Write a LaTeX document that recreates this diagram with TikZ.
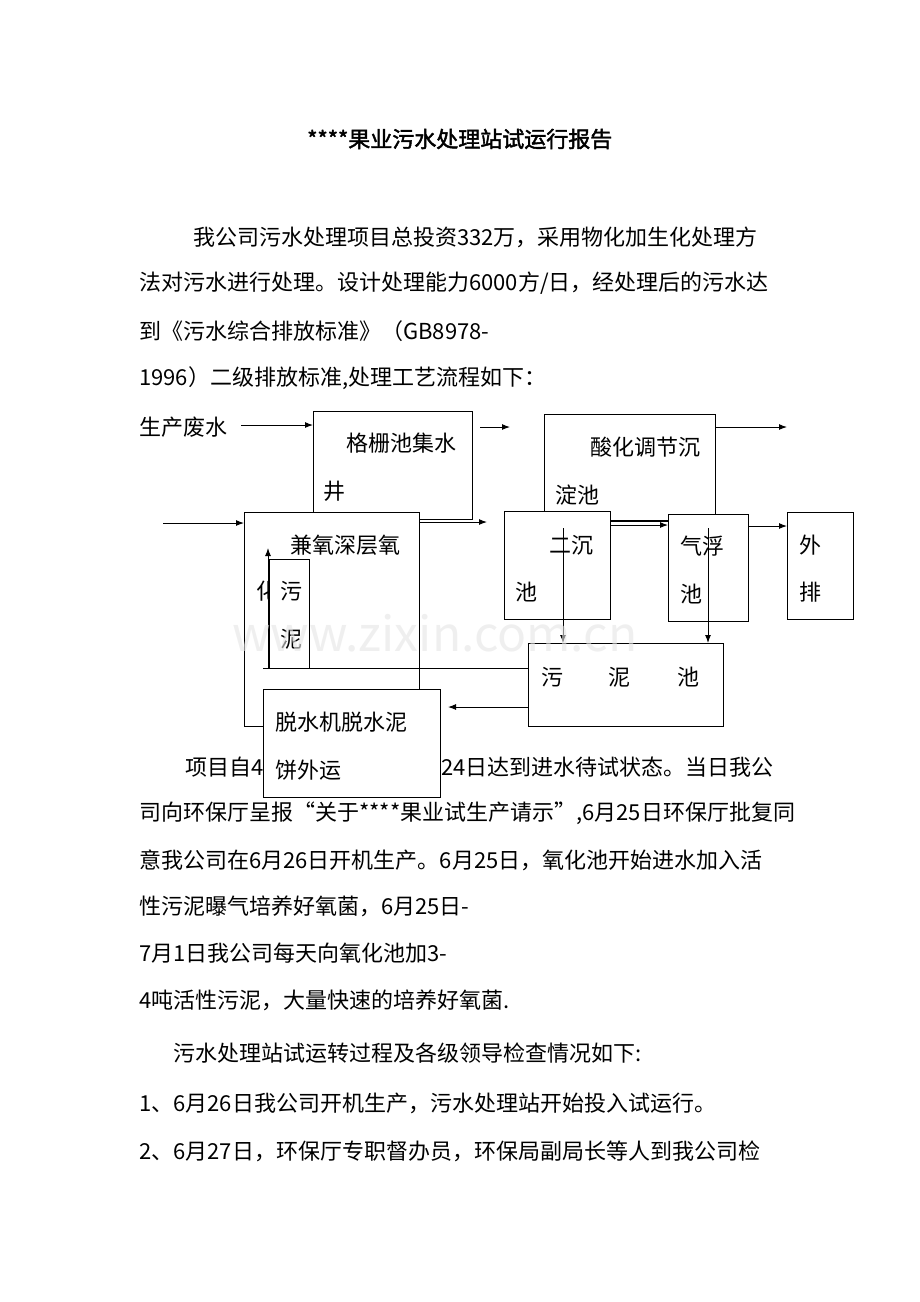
\documentclass[tikz,border=0pt]{standalone}
\usepackage{fontspec}
\setmainfont{Noto Sans CJK SC}[AutoFakeBold=2]
\usetikzlibrary{arrows.meta}
\begin{document}
\begin{tikzpicture}[x=1pt,y=-1pt,
  txt/.style={anchor=west,inner sep=0pt,font=\fontsize{22}{22}\selectfont},
  bx/.style={draw,line width=1pt,fill=white},
  ar/.style={line width=1pt,-{Latex[length=8pt,width=6pt]}},
  ln/.style={line width=1pt}]
\useasboundingbox (0,0) rectangle (920,1302);
\node[txt] (title) at (307,139) {\textbf{****果业污水处理站试运行报告}};
\node[txt] (p1) at (193,237) {我公司污水处理项目总投资332万，采用物化加生化处理方};
\node[txt] (p2) at (139,283) {法对污水进行处理。设计处理能力6000方/日，经处理后的污水达};
\node[txt] (p3) at (139,331) {到《污水综合排放标准》（GB8978-};
\node[txt] (p4) at (139,378) {1996）二级排放标准,处理工艺流程如下：};
\node[txt] (src) at (139,427) {生产废水};
% body text below diagram
\node[txt] (q1a) at (185,767) {项目自4};
\node[txt] (q1b) at (441,767) {24日达到进水待试状态。当日我公};
\node[txt] (q2) at (139,813) {司向环保厅呈报“关于****果业试生产请示”,6月25日环保厅批复同};
\node[txt] (q3) at (139,860) {意我公司在6月26日开机生产。6月25日，氧化池开始进水加入活};
\node[txt] (q4) at (139,906) {性污泥曝气培养好氧菌，6月25日-};
\node[txt] (q5) at (139,953) {7月1日我公司每天向氧化池加3-};
\node[txt] (q6) at (139,1000) {4吨活性污泥，大量快速的培养好氧菌.};
\node[txt] (q7) at (173,1053) {污水处理站试运转过程及各级领导检查情况如下:};
\node[txt] (q8) at (139,1103) {1、6月26日我公司开机生产，污水处理站开始投入试运行。};
\node[txt] (q9) at (139,1151) {2、6月27日，环保厅专职督办员，环保局副局长等人到我公司检};
% boxes
\node[bx,minimum width=159,minimum height=108,anchor=north west] (gs) at (313,411) {};
\node[txt] at (346,443) {格栅池集水};
\node[txt] at (323,491) {井};
\node[bx,minimum width=171,minimum height=106,anchor=north west] (sh) at (544,414) {};
\node[txt] at (590,447) {酸化调节沉};
\node[txt] at (555,495) {淀池};
\node[bx,minimum width=175,minimum height=214,anchor=north west] (jy) at (244,512) {};
\node[txt] at (290,545) {兼氧深层氧};
\node[txt] at (256,591) {化};
\node[bx,minimum width=106,minimum height=108,anchor=north west] (ec) at (504,511) {};
\node[txt] at (549,545) {二沉};
\node[txt] at (515,592) {池};
\node[bx,minimum width=80,minimum height=107,anchor=north west] (qf) at (668,514) {};
\node[txt] at (680,546) {气浮};
\node[txt] at (680,594) {池};
\node[bx,minimum width=66,minimum height=107,anchor=north west] (wp) at (787,512) {};
\node[txt] at (799,545) {外};
\node[txt] at (799,592) {排};
\node[bx,minimum width=40,minimum height=109,anchor=north west] (wn) at (269,559) {};
\node[txt] at (280,591) {污};
\node[txt] at (280,639) {泥};
\node[bx,minimum width=195,minimum height=83,anchor=north west] (wc) at (528,643) {};
\node[txt] at (541,677) {污};
\node[txt] at (608,677) {泥};
\node[txt] at (677,677) {池};
\node[bx,minimum width=177,minimum height=108,anchor=north west] (ts) at (263,689) {};
\node[txt] at (275,722) {脱水机脱水泥};
\node[txt] at (275,770) {饼外运};
% connectors
\coordinate (a1) at (241,425); \coordinate (a2) at (480,427); \coordinate (a3) at (510,427);
\coordinate (a4) at (715,427); \coordinate (a5) at (787,427);
\coordinate (b1) at (163,523); \coordinate (b2) at (487,522);
\coordinate (c1) at (563,528); \coordinate (c2) at (708,528);
\coordinate (d1) at (263,668); \coordinate (d2) at (268,548); \coordinate (d3) at (268,668);
\draw[ar] (a1) -- (gs.west |- a1);
\draw[ar] (a2) -- (a3);
\draw[ar] (a4) -- (a5);
\draw[ar] (b1) -- (jy.west |- b1);
\draw[ar] (jy.east |- b2) -- (b2);
\draw[ln] (ec.east |- 0,521) -- (qf.west |- 0,521);
\draw[ar] (ec.east |- 0,525) -- (qf.west |- 0,525);
\draw[ar] (qf.east |- 0,526) -- (wp.west |- 0,526);
\draw[ar] (c1) -- (c1 |- wc.north);
\draw[ar] (c2) -- (c2 |- wc.north);
\draw[ar] (wc.west |- 0,707) -- (448,707);
\draw[ln] (wc.west |- 0,668) -- (d1);
\draw[ar] (d3) -- (d2);
\node[txt,text=black!10,font=\fontsize{48}{48}\selectfont,opacity=0.6] (wm) at (232,633) {www.zixin.com.cn};
\end{tikzpicture}
\end{document}
